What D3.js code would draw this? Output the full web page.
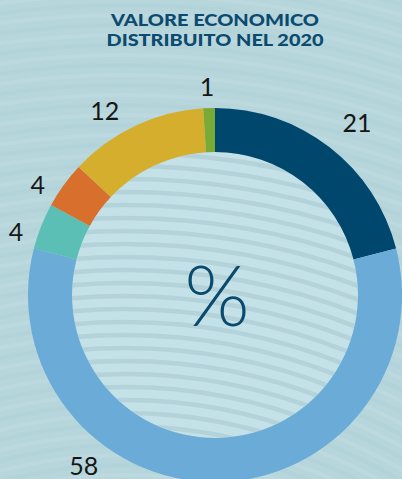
<!DOCTYPE html>
<html>
<head>
<meta charset="utf-8">
<script src="https://cdn.jsdelivr.net/npm/d3@7"></script>
<style>
  html, body { margin: 0; padding: 0; background: #b6d6dc; }
  svg { display: block; }
</style>
</head>
<body>
<div id="chart"></div>
<script>
// data
var titleLines = ["VALORE ECONOMICO", "DISTRIBUITO NEL 2020"];
var categories = ["a", "b", "c", "d", "e", "f"];
var values = [21, 58, 4, 4, 12, 1];
var colors = ["#00476e", "#6aabd7", "#5bbfb6", "#d96f2d", "#d5ae2d", "#7aaa36"];
// where each label sits: fraction along its slice and distance from centre
var labelFrac = [0.52, 0.68, 0.24, 0.22, 0.37, 0.39];
var labelRad = [224, 215, 209, 209, 215, 209];

var width = 402, height = 479;
var cx = 215, cy = 295;
var outerR = 187, innerR = 143;

var svg = d3.select("#chart").append("svg")
  .attr("width", width)
  .attr("height", height);

var defs = svg.append("defs");
defs.append("clipPath").attr("id", "inner")
  .append("circle").attr("cx", cx).attr("cy", cy).attr("r", innerR);

// background with faint wavy texture
svg.append("rect").attr("width", width).attr("height", height).attr("fill", "#b7d6dc");
var bg = svg.append("g").attr("opacity", 0.18);
d3.range(0, 90).forEach(function (i) {
  bg.append("circle")
    .attr("cx", cx - 90).attr("cy", cy + 650)
    .attr("r", 380 + i * 10)
    .attr("fill", "none")
    .attr("stroke", i % 2 ? "#d2eaee" : "#a0c6cf")
    .attr("stroke-width", 4);
});

// inner disc with stripes
svg.append("circle").attr("cx", cx).attr("cy", cy).attr("r", innerR).attr("fill", "#c3e1e6");
var stripes = svg.append("g").attr("clip-path", "url(#inner)");
d3.range(0, 40).forEach(function (i) {
  stripes.append("circle")
    .attr("cx", cx - 90).attr("cy", cy + 620)
    .attr("r", 450 + i * 13)
    .attr("fill", "none")
    .attr("stroke", "#b3d2d9")
    .attr("stroke-width", 4.5);
});

var pie = d3.pie().sort(null).value(function (d) { return d; });
var arcs = pie(values);
var arc = d3.arc().innerRadius(innerR).outerRadius(outerR);

var g = svg.append("g").attr("transform", "translate(" + cx + "," + cy + ")");

g.selectAll("path.slice")
  .data(arcs)
  .enter().append("path")
  .attr("class", "slice")
  .attr("d", arc)
  .attr("fill", function (d, i) { return colors[i]; });

g.selectAll("text.lbl")
  .data(arcs)
  .enter().append("text")
  .attr("class", "lbl")
  .attr("x", function (d, i) {
    var a = d.startAngle + (d.endAngle - d.startAngle) * labelFrac[i];
    return Math.sin(a) * labelRad[i];
  })
  .attr("y", function (d, i) {
    var a = d.startAngle + (d.endAngle - d.startAngle) * labelFrac[i];
    return -Math.cos(a) * labelRad[i];
  })
  .attr("text-anchor", "middle")
  .attr("dominant-baseline", "central")
  .attr("font-family", "Lato, 'Noto Sans', sans-serif")
  .attr("font-size", 25)
  .attr("fill", "#161616")
  .text(function (d) { return d.data; });

// centre percent sign
g.append("text")
  .attr("x", 2).attr("y", -2)
  .attr("text-anchor", "middle")
  .attr("dominant-baseline", "central")
  .attr("font-family", "Lato, 'Noto Sans', sans-serif")
  .attr("font-weight", 300)
  .attr("font-size", 84)
  .attr("fill", "#0a4a6d")
  .text("%");

// title
var titleWidth = [208, 217];
svg.selectAll("text.title")
  .data(titleLines)
  .enter().append("text")
  .attr("class", "title")
  .attr("x", 215)
  .attr("y", function (d, i) { return 26 + i * 20; })
  .attr("text-anchor", "middle")
  .attr("font-family", "Lato, 'DejaVu Sans', sans-serif")
  .attr("font-weight", 900)
  .attr("font-size", 16.5)
  .attr("textLength", function (d, i) { return titleWidth[i]; })
  .attr("lengthAdjust", "spacingAndGlyphs")
  .attr("fill", "#0c4a6e")
  .text(function (d) { return d; });
</script>
</body>
</html>
